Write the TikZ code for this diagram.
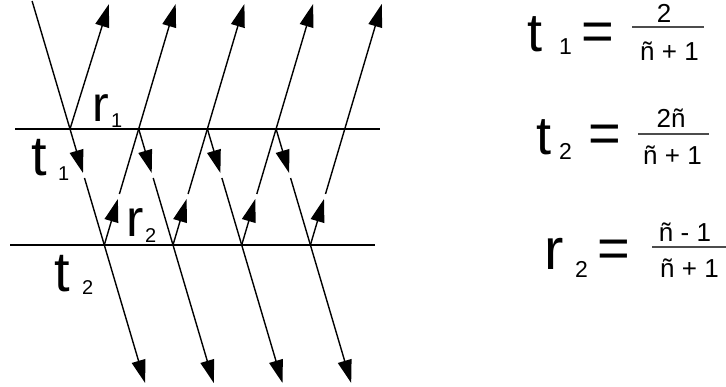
\documentclass[tikz,border=0pt]{standalone}
\usepackage{fontspec}
\setmainfont{Liberation Sans}
\usetikzlibrary{arrows.meta}
\begin{document}
\begin{tikzpicture}[x=1pt,y=-1pt,
  ray/.style={line width=1.4pt},
  arr/.style={ray,-{Triangle[length=23pt,width=14pt]}},
  lbl/.style={inner sep=0pt,anchor=base west},
  big/.style={lbl,font=\fontsize{54}{54}\selectfont},
  bigr/.style={lbl,font=\fontsize{58}{58}\selectfont},
  sub/.style={lbl,font=\fontsize{23}{23}\selectfont},
  lsub/.style={lbl,font=\fontsize{20}{20}\selectfont},
  eqs/.style={inner sep=0pt,font=\fontsize{56}{56}\selectfont},
  fr/.style={inner sep=0pt,anchor=base,font=\fontsize{26}{26}\selectfont},
  bar/.style={line width=1.3pt,black!70}]
\useasboundingbox (0,0) rectangle (726,387);

% interfaces
\coordinate (L1a) at (15,129);
\coordinate (L1b) at (380,129);
\coordinate (L2a) at (10,245);
\coordinate (L2b) at (375,245);
\draw[ray] (L1a) -- (L1b);
\draw[ray] (L2a) -- (L2b);

% points
\foreach \k in {0,...,4} {
  \pgfmathsetmacro\tx{70+68.7*\k}
  \coordinate (T\k) at (\tx,129);
}
\foreach \k in {0,...,3} {
  \pgfmathsetmacro\tx{70+68.7*\k}
  \coordinate (D\k) at (\tx+13.0,173);
  \coordinate (E\k) at (\tx+14.5,178);
  \coordinate (B\k) at (\tx+34.3,245);
  \coordinate (U\k) at (\tx+47.9,199);
  \coordinate (V\k) at (\tx+49.4,194);
  \coordinate (Bot\k) at (\tx+75.1,383);
  \coordinate (Up\k) at (\tx+105.7,4);
}
\coordinate (In) at (32.1,1);
\coordinate (R0) at (109,4);

% rays
\draw[ray] (In) -- (T0);
\draw[arr] (T0) -- (R0);
\foreach \k in {0,...,3} {
  \draw[arr] (T\k) -- (D\k);
  \draw[ray] (E\k) -- (B\k);
  \draw[arr] (B\k) -- (Bot\k);
  \draw[arr] (B\k) -- (U\k);
  \draw[arr] (V\k) -- (Up\k);
}

% left labels
\node[lbl,font=\fontsize{50}{50}\selectfont] (r1) at (92,122) {r};
\node[lsub] (r1s) at (111,128) {1};
\node[lbl,font=\fontsize{56}{56}\selectfont] (t1) at (31,176) {t};
\node[lsub] (t1s) at (58,181) {1};
\node[lbl,font=\fontsize{52}{52}\selectfont] (r2) at (126,237) {r};
\node[lsub] (r2s) at (145,243) {2};
\node[lbl,font=\fontsize{56}{56}\selectfont] (t2) at (54,292) {t};
\node[lsub] (t2s) at (82,295) {2};

% equation t1
\node[big] (et1) at (527,52) {t};
\node[sub] (et1s) at (559,55) {1};
\node[eqs] (eq1) at (597.5,36.5) {=};
\node[fr] (n1) at (664,23) {2};
\coordinate (b1a) at (632,27);
\coordinate (b1b) at (704,27);
\draw[bar] (b1a) -- (b1b);
\node[fr] (d1) at (669.5,61) {ñ + 1};

% equation t2
\node[big] (et2) at (536,155) {t};
\node[sub] (et2s) at (559,160) {2};
\node[eqs] (eq2) at (605,139) {=};
\node[fr] (n2) at (671,128) {2ñ};
\coordinate (b2a) at (638,134);
\coordinate (b2b) at (709,134);
\draw[bar] (b2a) -- (b2b);
\node[fr] (d2) at (672.5,165) {ñ + 1};

% equation r2
\node[bigr] (er2) at (544,270) {r};
\node[sub] (er2s) at (575,278) {2};
\node[eqs] (eq3) at (613.5,254) {=};
\node[fr] (n3) at (685,242) {ñ - 1};
\coordinate (b3a) at (652,247);
\coordinate (b3b) at (726,247);
\draw[bar] (b3a) -- (b3b);
\node[fr] (d3) at (689.5,278) {ñ + 1};
\end{tikzpicture}
\end{document}
